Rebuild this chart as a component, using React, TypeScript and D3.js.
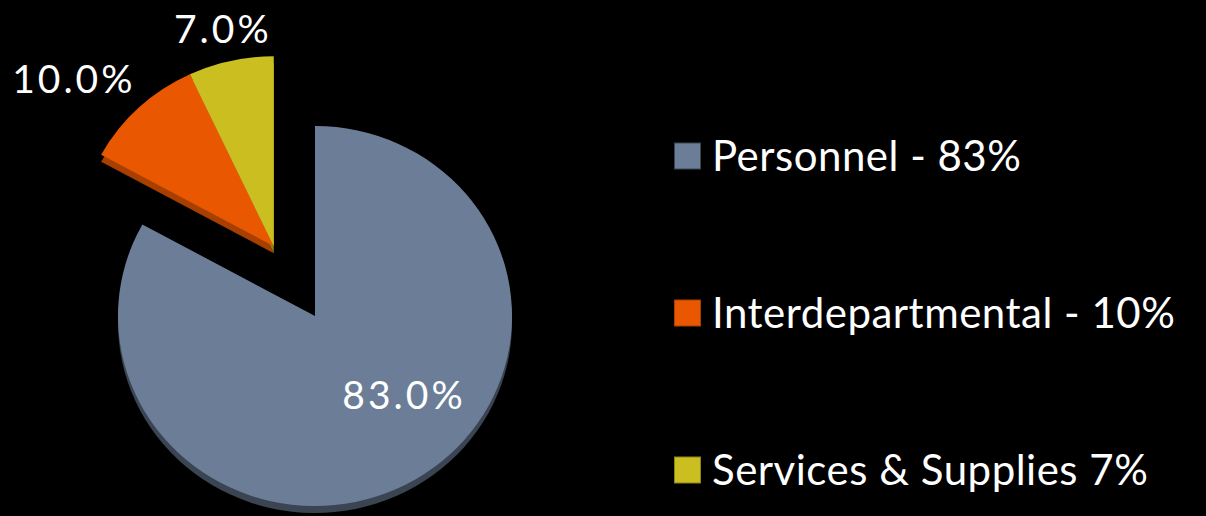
import React from "react";
import * as d3 from "d3";

const categories = ["Personnel", "Interdepartmental", "Services & Supplies"];
const values = [83, 10, 7];
const legendLabels = ["Personnel - 83%", "Interdepartmental - 10%", "Services & Supplies 7%"];
const sliceLabels = ["83.0%", "10.0%", "7.0%"];
const exploded = [false, true, true];

const colors = ["#6c7e97", "#e95800", "#cbbe20"];
const sideColors = ["#3a4452", "#a63f00", "#8c8315"];

const W = 1206;
const H = 516;
const CX = 315;
const CY = 316;
const R = 190;
const SX = 197 / 190;
const EXPLODE = 81;
const DEPTH = 7;
const FONT = "Lato, 'Open Sans', sans-serif";

// label placement: angle (deg, clockwise from 12 o'clock) and radius from slice centre
const labelAngles = [131.6, 310, 346.8];
const labelRadii = [119, 261, 223];

export default function App() {
  const pie = d3.pie<number>().sort(null).value((d) => d).startAngle(0).endAngle(2 * Math.PI);
  const arcs = pie(values);
  const arc = d3.arc<d3.PieArcDatum<number>>().innerRadius(0).outerRadius(R);

  // exploded group shares a common offset along its combined mid-angle
  const exArcs = arcs.filter((_, i) => exploded[i]);
  const exStart = d3.min(exArcs, (a) => a.startAngle) ?? 0;
  const exEnd = d3.max(exArcs, (a) => a.endAngle) ?? 0;
  const exMid = (exStart + exEnd) / 2;
  const exDx = Math.sin(exMid) * EXPLODE;
  const exDy = -Math.cos(exMid) * EXPLODE;

  const offsetOf = (i: number) => (exploded[i] ? [exDx, exDy] : [0, 0]);

  const rowY = d3.scalePoint<string>().domain(categories).range([156, 470]);

  return (
    <svg
      width={W}
      height={H}
      style={{ position: "absolute", left: 0, top: 0, background: "#000" }}
    >
      <rect x={0} y={0} width={W} height={H} fill="#000" />
      {/* side / depth */}
      {arcs.map((a, i) => {
        const [dx, dy] = offsetOf(i);
        return (
          <path
            key={"s" + i}
            d={arc(a) || ""}
            transform={`translate(${CX + dx},${CY + dy + DEPTH}) scale(${SX},1)`}
            fill={sideColors[i]}
          />
        );
      })}
      {/* top surfaces */}
      {arcs.map((a, i) => {
        const [dx, dy] = offsetOf(i);
        return (
          <path
            key={"t" + i}
            d={arc(a) || ""}
            transform={`translate(${CX + dx},${CY + dy}) scale(${SX},1)`}
            fill={colors[i]}
          />
        );
      })}
      {/* slice labels */}
      {arcs.map((a, i) => {
        const [dx, dy] = offsetOf(i);
        const ang = (labelAngles[i] * Math.PI) / 180;
        const x = CX + dx + Math.sin(ang) * labelRadii[i];
        const y = CY + dy - Math.cos(ang) * labelRadii[i];
        return (
          <text
            key={"l" + i}
            x={x}
            y={y}
            dy="0.36em"
            textAnchor="middle"
            fill="#ffffff"
            fontFamily={FONT}
            fontSize={39}
            letterSpacing={3}
          >
            {sliceLabels[i]}
          </text>
        );
      })}
      {/* legend */}
      {categories.map((c, i) => {
        const y = rowY(c) ?? 0;
        return (
          <g key={"g" + i}>
            <rect x={674.5} y={y - 13} width={26} height={26} fill={colors[i]} stroke={sideColors[i]} strokeWidth={1} />
            <text
              x={712}
              y={y}
              dy="0.36em"
              fill="#ffffff"
              fontFamily={FONT}
              fontSize={42}
              letterSpacing={0.5}
            >
              {legendLabels[i]}
            </text>
          </g>
        );
      })}
    </svg>
  );
}
